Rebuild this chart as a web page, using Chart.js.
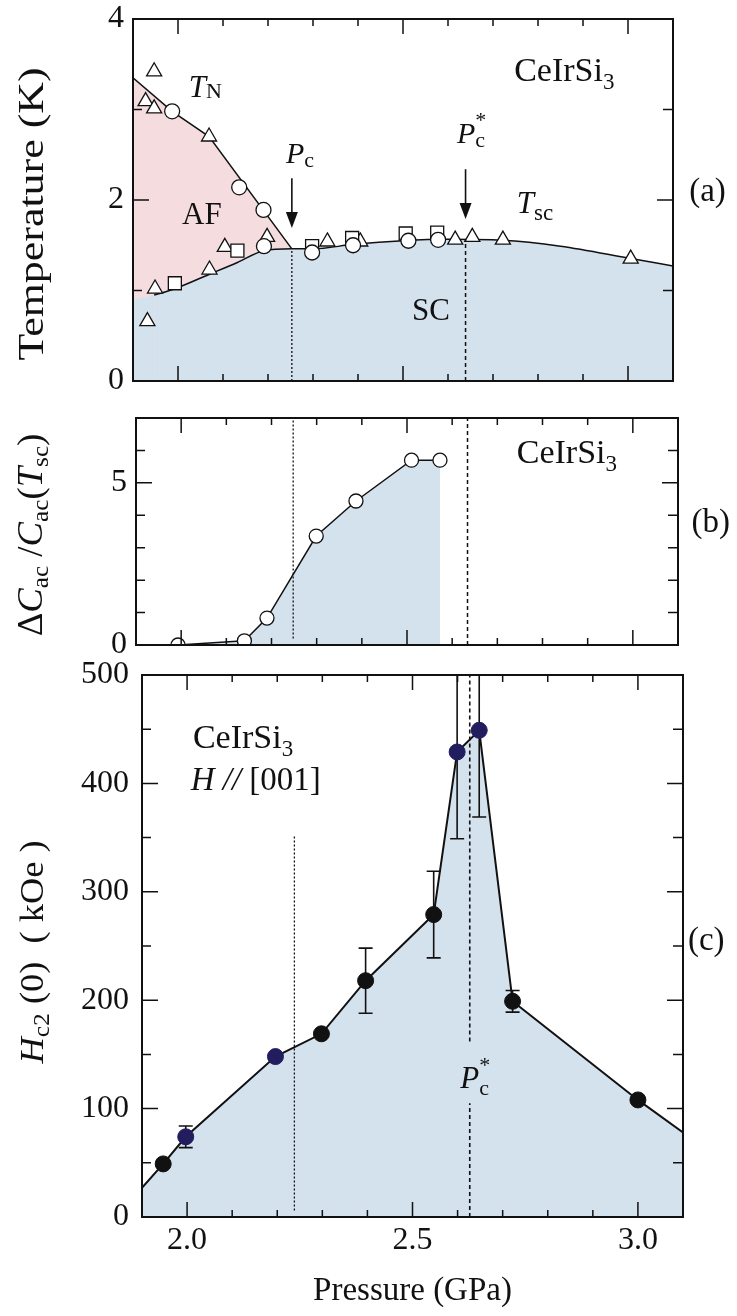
<!DOCTYPE html>
<html><head><meta charset="utf-8">
<script src="https://cdn.jsdelivr.net/npm/chart.js@4.4.1/dist/chart.umd.min.js"></script>
<style>
html,body{margin:0;padding:0;background:#fff;}
#wrap{position:relative;width:737px;height:1316px;overflow:hidden;background:#fff;}
canvas{position:absolute;left:0;}
</style></head><body>
<div id="wrap">
<canvas id="ca" width="737" height="400" style="top:0;width:737px;height:400px"></canvas>
<canvas id="cb" width="737" height="260" style="top:400px;width:737px;height:260px"></canvas>
<canvas id="cc" width="737" height="656" style="top:660px;width:737px;height:656px"></canvas>
</div>
<script>
// ================= DATA =================
const xTickLabels = [2.0, 2.5, 3.0];
const xMinorTicks = [2.0, 2.1, 2.2, 2.3, 2.4, 2.5, 2.6, 2.7, 2.8, 2.9, 3.0];

// (a) temperature phase diagram
const yTicksA = [0, 2, 4];
const yMinorA = [1, 3];
const triP = [1.947, 1.928, 1.947, 2.069, 2.198, 2.104, 2.070, 1.949, 1.932, 2.332, 2.405, 2.616, 2.654, 2.722, 3.006];
const triT = [3.42, 3.09, 3.01, 2.70, 1.59, 1.48, 1.23, 1.02, 0.66, 1.54, 1.54, 1.56, 1.59, 1.56, 1.35];
const cirP = [1.987, 2.136, 2.190, 2.191, 2.298, 2.389, 2.512, 2.578];
const cirT = [2.98, 2.14, 1.89, 1.49, 1.42, 1.50, 1.55, 1.56];
const sqrP = [1.993, 2.132, 2.298, 2.387, 2.506, 2.576];
const sqrT = [1.08, 1.44, 1.49, 1.58, 1.63, 1.64];
const tnLineP = [1.9, 1.987, 2.069, 2.253];
const tnLineT = [3.35, 2.98, 2.70, 1.46];
const tscLineP = [1.9, 1.947, 1.993, 2.07, 2.132, 2.191, 2.253, 2.3, 2.39, 2.5, 2.6, 2.72, 2.85, 3.0, 3.1];
const tscLineT = [0.90, 0.95, 1.02, 1.18, 1.31, 1.44, 1.46, 1.46, 1.51, 1.55, 1.565, 1.555, 1.49, 1.36, 1.27];

// (b) specific heat jump
const yTicksB = [0, 5];
const yMinorB = [1, 2, 3, 4, 6];
const dcP = [1.993, 2.14, 2.19, 2.299, 2.387, 2.51, 2.573];
const dcV = [0.0, 0.13, 0.83, 3.36, 4.44, 5.70, 5.70];

// (c) upper critical field
const yTicksC = [0, 100, 200, 300, 400, 500];
const yMinorC = [50, 150, 250, 350, 450];
const hcP = [1.947, 1.997, 2.196, 2.298, 2.396, 2.547, 2.599, 2.648, 2.722, 3.000];
const hcV = [49, 74, 148, 169, 218, 279, 429, 449, 199, 108];
const hcErr = [0, 10, 0, 0, 30, 40, 80, 80, 10, 0];
const hcKind = ['k', 'n', 'n', 'k', 'k', 'k', 'n', 'n', 'k', 'k'];
const hcEdgeP = [1.9, 3.1];
const hcEdgeV = [27, 78];

// critical pressures (per panel as read)
const pcA = 2.253, pcStarA = 2.639;
const pcB = 2.248, pcStarB = 2.634;
const pcC = 2.238, pcStarC = 2.627;

// ================= STYLE =================
const FAMILY = '"Liberation Serif", "Times New Roman", serif';
const INK = '#111111';
const BLUE = '#d4e2ee';
const PINK = '#f4dcdf';
const NAVY = '#221d5e';

Chart.defaults.font.family = FAMILY;
Chart.defaults.color = INK;
Chart.defaults.animation = false;

const pts = (ps, vs) => ps.map((p, i) => ({x: p, y: vs[i]}));

function runsWidth(ctx, runs) {
  let cx = 0, last = 0;
  for (const r of runs) {
    ctx.font = (r.it ? 'italic ' : '') + r.s + 'px ' + FAMILY;
    const w = ctx.measureText(r.t).width;
    if (r.stack) { cx = Math.max(cx, last + w); }
    else { last = cx; cx += w; }
  }
  return cx;
}
function drawRuns(ctx, runs, x, y) {
  let cx = x, last = x;
  for (const r of runs) {
    ctx.font = (r.it ? 'italic ' : '') + r.s + 'px ' + FAMILY;
    const w = ctx.measureText(r.t).width;
    if (r.stack) { ctx.fillText(r.t, last, y + (r.dy || 0)); cx = Math.max(cx, last + w); }
    else { ctx.fillText(r.t, cx, y + (r.dy || 0)); last = cx; cx += w; }
  }
}
function drawRotated(ctx, t) {
  const w = runsWidth(ctx, t.runs);
  ctx.save();
  ctx.translate(t.cx, t.cy);
  ctx.rotate(-Math.PI / 2);
  ctx.scale(t.stretch || 1, 1);
  ctx.fillStyle = INK; ctx.textBaseline = 'alphabetic'; ctx.textAlign = 'left';
  drawRuns(ctx, t.runs, -w / 2, t.runs[0].s * 0.33);
  ctx.restore();
}

const DECO = {
  ca: {
    yMajor: yTicksA, yMinor: yMinorA,
    vlines: [{p: pcA, from: 0, to: 1.46, dash: [2, 2], w: 1.3}, {p: pcStarA, from: 0, to: 1.57, dash: [4, 3], w: 1.5}],
    arrows: [{p: pcA, from: 2.24, to: 1.69}, {p: pcStarA, from: 2.34, to: 1.79}],
    labels: [
      {p: 2.024, v: 3.14, runs: [{t: 'T', it: 1, s: 31}, {t: 'N', s: 22, dy: 1}]},
      {p: 2.240, v: 2.41, runs: [{t: 'P', it: 1, s: 30}, {t: 'c', s: 22, dy: 4}]},
      {p: 2.009, v: 1.735, runs: [{t: 'AF', s: 31}]},
      {p: 2.747, v: 3.31, runs: [{t: 'CeIrSi', s: 34}, {t: '3', s: 23, dy: 8}]},
      {p: 2.620, v: 2.63, runs: [{t: 'P', it: 1, s: 30}, {t: 'c', s: 22, dy: 4}, {t: '*', s: 22, dy: -16, stack: 1}]},
      {p: 2.753, v: 1.856, runs: [{t: 'T', it: 1, s: 31}, {t: 'sc', s: 23, dy: 7}]},
      {p: 2.520, v: 0.674, runs: [{t: 'SC', s: 31}]},
      {p: 3.136, v: 1.99, runs: [{t: '(a)', s: 33}]}
    ],
    ytitle: {cx: 31, cy: 214, stretch: 1.22, runs: [{t: 'Temperature (K)', s: 36}]}
  },
  cb: {
    yMajor: yTicksB, yMinor: yMinorB,
    vlines: [{p: pcB, from: 0.2, to: 6.95, dash: [2, 2], w: 1.3}, {p: pcStarB, from: 0, to: 7, dash: [4, 3], w: 1.5}],
    arrows: [],
    labels: [
      {p: 2.743, v: 5.62, runs: [{t: 'CeIrSi', s: 34}, {t: '3', s: 23, dy: 8}]},
      {p: 3.130, v: 3.48, runs: [{t: '(b)', s: 33}]}
    ],
    ytitle: {cx: 30, cy: 135, stretch: 1.05, runs: [
      {t: 'Δ', s: 35}, {t: 'C', it: 1, s: 35}, {t: 'ac', s: 24, dy: 6}, {t: ' /', s: 35},
      {t: 'C', it: 1, s: 35}, {t: 'ac', s: 24, dy: 6}, {t: '(', s: 35}, {t: 'T', it: 1, s: 35},
      {t: 'sc', s: 24, dy: 6}, {t: ')', s: 35}]}
  },
  cc: {
    yMajor: yTicksC, yMinor: yMinorC,
    vlines: [{p: pcC, from: 6, to: 352, dash: [2, 2], w: 1.3},
             {p: pcStarC, from: 162, to: 500, dash: [4, 3], w: 1.6},
             {p: pcStarC, from: 0, to: 105, dash: [4, 3], w: 1.6}],
    arrows: [],
    labels: [
      {p: 2.013, v: 433, runs: [{t: 'CeIrSi', s: 34}, {t: '3', s: 23, dy: 8}]},
      {p: 2.008, v: 394, runs: [{t: 'H', it: 1, s: 33}, {t: ' //', it: 1, s: 33}, {t: ' [001]', s: 33}]},
      {p: 2.606, v: 119, runs: [{t: 'P', it: 1, s: 31}, {t: 'c', s: 22, dy: 7}, {t: '*', s: 22, dy: -16, stack: 1}]},
      {p: 3.111, v: 246, runs: [{t: '(c)', s: 33}]}
    ],
    ytitle: {cx: 32, cy: 292, stretch: 1.07, runs: [
      {t: 'H', it: 1, s: 34}, {t: 'c2', s: 24, dy: 6}, {t: ' (0)  ( kOe )', s: 34}]},
    err: {datasetIndex: 1}
  }
};

function drawErrors(chart) {
  const {ctx, chartArea: a} = chart;
  const xs = chart.scales.x, ys = chart.scales.y;
  ctx.save();
  ctx.beginPath(); ctx.rect(a.left, a.top, a.right - a.left, a.bottom - a.top); ctx.clip();
  ctx.strokeStyle = INK; ctx.lineWidth = 1.6; ctx.setLineDash([]);
  hcP.forEach((p, i) => {
    const e = hcErr[i];
    if (!e) return;
    const px = xs.getPixelForValue(p);
    const t = ys.getPixelForValue(hcV[i] + e), b = ys.getPixelForValue(hcV[i] - e);
    ctx.beginPath();
    ctx.moveTo(px, t); ctx.lineTo(px, b);
    ctx.moveTo(px - 7, t); ctx.lineTo(px + 7, t);
    ctx.moveTo(px - 7, b); ctx.lineTo(px + 7, b);
    ctx.stroke();
  });
  ctx.restore();
}

const deco = {
  id: 'deco',
  beforeDatasetDraw(chart, args) {
    const cfg = DECO[chart.canvas.id];
    if (cfg.err && args.index === cfg.err.datasetIndex) drawErrors(chart);
  },
  afterDatasetsDraw(chart) {
    const cfg = DECO[chart.canvas.id];
    const {ctx, chartArea: a} = chart;
    const xs = chart.scales.x, ys = chart.scales.y;
    ctx.save();
    ctx.strokeStyle = INK;
    for (const l of cfg.vlines) {
      const px = xs.getPixelForValue(l.p);
      ctx.lineWidth = l.w; ctx.setLineDash(l.dash);
      ctx.beginPath(); ctx.moveTo(px, ys.getPixelForValue(l.from)); ctx.lineTo(px, ys.getPixelForValue(l.to)); ctx.stroke();
    }
    ctx.setLineDash([]);
    for (const ar of cfg.arrows) {
      const px = xs.getPixelForValue(ar.p);
      const y1 = ys.getPixelForValue(ar.from), y2 = ys.getPixelForValue(ar.to);
      ctx.lineWidth = 1.6;
      ctx.beginPath(); ctx.moveTo(px, y1); ctx.lineTo(px, y2 - 12); ctx.stroke();
      ctx.fillStyle = INK;
      ctx.beginPath(); ctx.moveTo(px, y2); ctx.lineTo(px - 6, y2 - 16); ctx.lineTo(px + 6, y2 - 16); ctx.closePath(); ctx.fill();
    }
    ctx.lineWidth = 1.5; ctx.beginPath();
    for (const v of xMinorTicks) {
      const px = xs.getPixelForValue(v);
      const len = xTickLabels.includes(v) ? 15 : 7;
      ctx.moveTo(px, a.bottom); ctx.lineTo(px, a.bottom - len);
      ctx.moveTo(px, a.top); ctx.lineTo(px, a.top + len);
    }
    for (const v of cfg.yMajor) {
      const py = ys.getPixelForValue(v);
      ctx.moveTo(a.left, py); ctx.lineTo(a.left + 16, py);
      ctx.moveTo(a.right, py); ctx.lineTo(a.right - 16, py);
    }
    for (const v of cfg.yMinor) {
      const py = ys.getPixelForValue(v);
      ctx.moveTo(a.left, py); ctx.lineTo(a.left + 9, py);
      ctx.moveTo(a.right, py); ctx.lineTo(a.right - 10, py);
    }
    ctx.stroke();
    ctx.lineWidth = 2;
    ctx.strokeRect(a.left, a.top, a.right - a.left, a.bottom - a.top);
    ctx.fillStyle = INK; ctx.textBaseline = 'alphabetic'; ctx.textAlign = 'left';
    for (const l of cfg.labels) drawRuns(ctx, l.runs, xs.getPixelForValue(l.p), ys.getPixelForValue(l.v));
    ctx.restore();
    drawRotated(ctx, cfg.ytitle);
  }
};

function yAxis(min, max, ticks, width, pad) {
  return {
    type: 'linear', min: min, max: max,
    afterBuildTicks: s => { s.ticks = ticks.map(v => ({value: v})); },
    afterFit: s => { s.width = width; s.paddingTop = 0; s.paddingBottom = 0; },
    grid: {display: false, drawTicks: false},
    border: {display: false},
    ticks: {font: {family: FAMILY, size: 32, lineHeight: 0.9}, color: INK, padding: pad, autoSkip: false}
  };
}
function xAxis(display) {
  const ax = {type: 'linear', min: 1.9, max: 3.1, display: display,
    grid: {display: false, drawTicks: false}, border: {display: false}};
  if (display) {
    Object.assign(ax, {
      afterBuildTicks: s => { s.ticks = xTickLabels.map(v => ({value: v})); },
      afterFit: s => { s.height = 99; s.paddingLeft = 0; s.paddingRight = 0; },
      ticks: {font: {family: FAMILY, size: 32}, color: INK, padding: 4, autoSkip: false, maxRotation: 0,
              callback: v => Number(v).toFixed(1)},
      title: {display: true, text: 'Pressure (GPa)', font: {family: FAMILY, size: 33}, color: INK,
              padding: {top: 0, bottom: 5}}
    });
  }
  return ax;
}
function opts(pad, yax, xDisp) {
  return {
    responsive: false, devicePixelRatio: 1, animation: false, events: [],
    layout: {padding: pad},
    scales: {x: xAxis(xDisp), y: yax},
    plugins: {legend: {display: false}, tooltip: {enabled: false}}
  };
}
const marker = (style, r) => ({showLine: false, pointStyle: style, pointRadius: r,
  pointBackgroundColor: '#ffffff', pointBorderColor: INK, pointBorderWidth: 1.3});

// ---------- (a) ----------
new Chart(document.getElementById('ca'), {
  type: 'line',
  data: {datasets: [
    {data: pts(tnLineP, tnLineT), borderColor: INK, borderWidth: 1.5, pointRadius: 0, tension: 0,
     fill: 'origin', backgroundColor: PINK, order: 10},
    {data: pts(tscLineP, tscLineT), borderColor: INK, borderWidth: 1.5, pointRadius: 0,
     cubicInterpolationMode: 'monotone', fill: 'origin', backgroundColor: BLUE, order: 9,
     segment: {borderColor: c => c.p0DataIndex === 0 ? 'rgba(0,0,0,0)' : INK}},
    Object.assign({data: pts(triP, triT), order: 2}, marker('triangle', 8.7)),
    Object.assign({data: pts(sqrP, sqrT), order: 1}, marker('rect', 9.2)),
    Object.assign({data: pts(cirP, cirT), order: 0}, marker('circle', 7.5))
  ]},
  options: opts({left: 0, right: 64, top: 19, bottom: 19}, yAxis(0, 4, yTicksA, 133, 9), false),
  plugins: [deco]
});

// ---------- (b) ----------
new Chart(document.getElementById('cb'), {
  type: 'line',
  data: {datasets: [
    Object.assign({data: pts(dcP, dcV), borderColor: INK, borderWidth: 1.5, tension: 0,
      fill: 'origin', backgroundColor: BLUE}, marker('circle', 7), {showLine: true})
  ]},
  options: opts({left: 0, right: 59, top: 18, bottom: 15}, yAxis(0, 7, yTicksB, 136, 9), false),
  plugins: [deco]
});

// ---------- (c) ----------
new Chart(document.getElementById('cc'), {
  type: 'line',
  data: {datasets: [
    {data: [{x: hcEdgeP[0], y: hcEdgeV[0]}].concat(pts(hcP, hcV), [{x: hcEdgeP[1], y: hcEdgeV[1]}]),
     borderColor: INK, borderWidth: 2, pointRadius: 0, tension: 0, fill: 'origin', backgroundColor: BLUE, order: 1},
    {data: pts(hcP, hcV), showLine: false, pointStyle: 'circle', pointRadius: 8,
     pointBackgroundColor: hcKind.map(k => k === 'n' ? NAVY : INK),
     pointBorderColor: hcKind.map(k => k === 'n' ? NAVY : INK), pointBorderWidth: 1, order: 0}
  ]},
  options: opts({left: 0, right: 54, top: 15, bottom: 0}, yAxis(0, 500, yTicksC, 142, 13), true),
  plugins: [deco]
});
</script>
</body></html>
